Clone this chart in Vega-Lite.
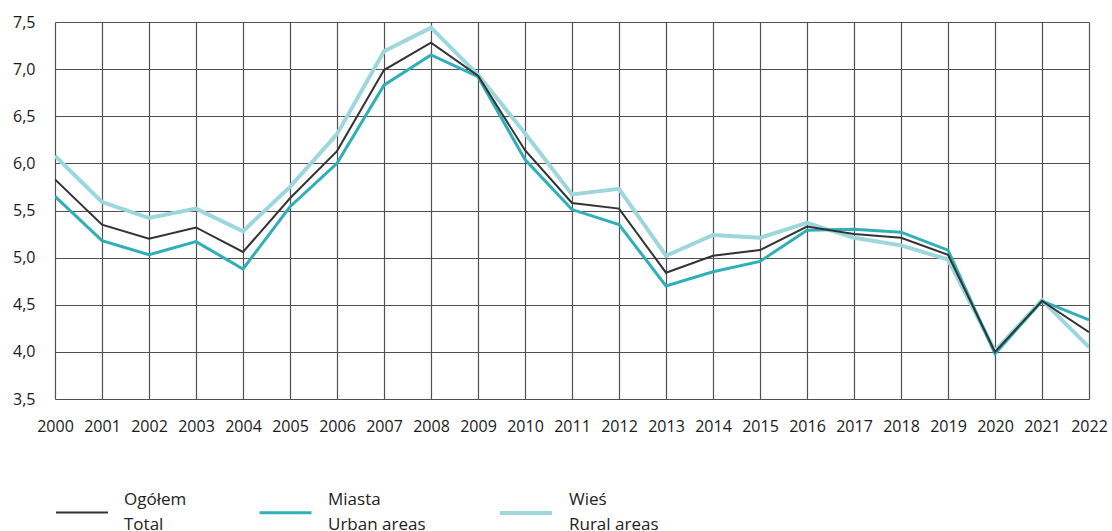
{
  "$schema": "https://vega.github.io/schema/vega-lite/v6.json",
  "width": 1034,
  "height": 377,
  "autosize": {"type": "none"},
  "padding": {"left": 55, "top": 22, "right": 23, "bottom": 132},
  "background": "white",
  "config": {
    "view": {"stroke": null},
    "font": "Open Sans",
    "axis": {"labelFont": "Open Sans", "labelColor": "#1a1a1a", "labelFontSize": 16},
    "style": {"guide-label": {"lineHeight": 25}}
  },
  "data": {
    "values": [
      {"year": 2000, "Ogółem": 5.83, "Miasta": 5.65, "Wieś": 6.08},
      {"year": 2001, "Ogółem": 5.35, "Miasta": 5.18, "Wieś": 5.59},
      {"year": 2002, "Ogółem": 5.20, "Miasta": 5.03, "Wieś": 5.42},
      {"year": 2003, "Ogółem": 5.32, "Miasta": 5.17, "Wieś": 5.52},
      {"year": 2004, "Ogółem": 5.06, "Miasta": 4.88, "Wieś": 5.28},
      {"year": 2005, "Ogółem": 5.63, "Miasta": 5.54, "Wieś": 5.75},
      {"year": 2006, "Ogółem": 6.13, "Miasta": 6.00, "Wieś": 6.31},
      {"year": 2007, "Ogółem": 6.99, "Miasta": 6.83, "Wieś": 7.19},
      {"year": 2008, "Ogółem": 7.28, "Miasta": 7.15, "Wieś": 7.44},
      {"year": 2009, "Ogółem": 6.93, "Miasta": 6.92, "Wieś": 6.94},
      {"year": 2010, "Ogółem": 6.14, "Miasta": 6.04, "Wieś": 6.32},
      {"year": 2011, "Ogółem": 5.58, "Miasta": 5.51, "Wieś": 5.67},
      {"year": 2012, "Ogółem": 5.52, "Miasta": 5.35, "Wieś": 5.73},
      {"year": 2013, "Ogółem": 4.84, "Miasta": 4.70, "Wieś": 5.02},
      {"year": 2014, "Ogółem": 5.02, "Miasta": 4.85, "Wieś": 5.24},
      {"year": 2015, "Ogółem": 5.08, "Miasta": 4.96, "Wieś": 5.21},
      {"year": 2016, "Ogółem": 5.33, "Miasta": 5.29, "Wieś": 5.37},
      {"year": 2017, "Ogółem": 5.25, "Miasta": 5.30, "Wieś": 5.21},
      {"year": 2018, "Ogółem": 5.21, "Miasta": 5.27, "Wieś": 5.13},
      {"year": 2019, "Ogółem": 5.03, "Miasta": 5.08, "Wieś": 4.98},
      {"year": 2020, "Ogółem": 4.00, "Miasta": 3.98, "Wieś": 4.01},
      {"year": 2021, "Ogółem": 4.54, "Miasta": 4.54, "Wieś": 4.55},
      {"year": 2022, "Ogółem": 4.21, "Miasta": 4.34, "Wieś": 4.05}
    ]
  },
  "transform": [{"fold": ["Wieś", "Miasta", "Ogółem"], "as": ["series", "value"]}],
  "mark": {"type": "line", "strokeJoin": "miter", "clip": true},
  "encoding": {
    "x": {
      "field": "year", "type": "quantitative",
      "scale": {"domain": [2000, 2022], "nice": false, "zero": false},
      "axis": {
        "title": null,
        "values": [2000,2001,2002,2003,2004,2005,2006,2007,2008,2009,2010,2011,2012,2013,2014,2015,2016,2017,2018,2019,2020,2021,2022],
        "format": "d",
        "domain": false, "ticks": false, "labelPadding": 19,
        "grid": true, "gridColor": "#505050", "gridWidth": 1.2, "gridOpacity": 1,
        "labelFlush": false, "labelOverlap": false
      }
    },
    "y": {
      "field": "value", "type": "quantitative",
      "scale": {"domain": [3.5, 7.5], "nice": false, "zero": false},
      "axis": {
        "title": null,
        "values": [3.5, 4, 4.5, 5, 5.5, 6, 6.5, 7, 7.5],
        "labelExpr": "replace(format(datum.value, '.1f'), '.', ',')",
        "domain": false, "ticks": false, "labelPadding": 20,
        "grid": true, "gridColor": "#505050", "gridWidth": 1.2, "gridOpacity": 1,
        "labelFlush": false, "labelOverlap": false
      }
    },
    "color": {
      "field": "series", "type": "nominal",
      "scale": {"domain": ["Ogółem", "Miasta", "Wieś"], "range": ["#333333", "#30afb8", "#9dd7db"]},
      "legend": {
        "orient": "none", "legendX": 0, "legendY": 463,
        "direction": "horizontal", "title": null,
        "symbolType": "stroke", "symbolSize": 2700, "symbolStrokeWidth": 4,
        "labelExpr": "datum.label == 'Ogółem' ? ['Ogółem', 'Total'] : datum.label == 'Miasta' ? ['Miasta', 'Urban areas'] : ['Wieś', 'Rural areas']",
        "labelFont": "Open Sans", "labelFontSize": 17, "labelColor": "#222222",
        "labelBaseline": "line-bottom",
        "labelOffset": 15, "columnPadding": 66, "labelLimit": 300
      }
    },
    "strokeWidth": {
      "field": "series", "type": "nominal",
      "scale": {"domain": ["Ogółem", "Miasta", "Wieś"], "range": [2, 4, 4]},
      "legend": null
    }
  }
}
